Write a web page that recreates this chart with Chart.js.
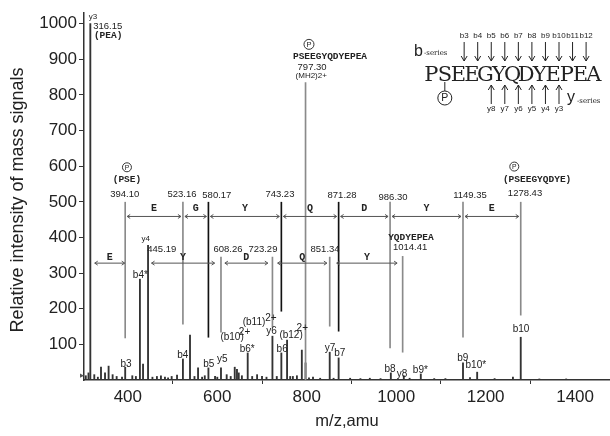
<!DOCTYPE html>
<html>
<head>
<meta charset="utf-8">
<script src="https://cdn.jsdelivr.net/npm/chart.js@4.4.0/dist/chart.umd.min.js"></script>
<style>
  html, body { margin: 0; padding: 0; background: #fff; }
</style>
</head>
<body>
<canvas id="spectrum" width="610" height="436"></canvas>
<script>
// Axis ticks
const xTicks = [400, 600, 800, 1000, 1200, 1400];
const yTicks = [100, 200, 300, 400, 500, 600, 700, 800, 900, 1000];

// Spectrum peaks (m/z, relative intensity)
const peakMz = [306, 312, 316.15, 325, 333, 340, 349, 357, 366, 375, 387, 394.10, 410, 418, 427, 434, 445.19,
  455, 465, 474, 483, 490, 498, 510, 523.16, 539, 549, 557, 566, 572, 580.17, 595, 600, 608.26, 621, 630,
  639, 644, 648, 655, 668, 678, 689, 700, 710, 723.29, 733, 743.23, 756, 763, 769, 778, 789, 797.30, 805,
  814, 830, 851.34, 860, 871.28, 897, 920, 941, 965, 988, 1017, 1030, 1055, 1085, 1110, 1149.35, 1165,
  1181, 1220, 1261, 1278.43, 1320, 1380];
const peakInt = [12, 20, 1000, 15, 8, 36, 20, 39, 15, 10, 8, 36, 12, 10, 283, 45, 378,
  8, 10, 12, 8, 6, 10, 14, 59, 126, 10, 34, 8, 12, 34, 10, 8, 34, 15, 10,
  36, 30, 20, 12, 76, 10, 15, 10, 8, 123, 10, 76, 112, 10, 10, 12, 84, 48, 6,
  8, 5, 78, 5, 62, 5, 4, 5, 4, 20, 12, 5, 17, 4, 4, 48, 7,
  22, 4, 8, 120, 3, 3];

// Fragment marker lines (floating, low..high intensity)
const blackMz = [580.17, 743.23, 871.28];
const blackLow = [120, 193, 137];
const blackHigh = [499, 499, 499];
const grayMz = [394.10, 523.16, 986.30, 1149.35, 1278.43, 608.26, 723.29, 851.34, 1014.41, 797.30];
const grayLow = [118, 157, 90, 120, 182, 134, 148, 151, 78, 0];
const grayHigh = [499, 499, 499, 499, 499, 345, 345, 345, 347, 835];

// b-series mass ladder and residues between them
const bLadder = [394.10, 523.16, 580.17, 743.23, 871.28, 986.30, 1149.35, 1278.43];
const bResidues = ["E", "G", "Y", "Q", "D", "Y", "E"];
// y-series arrows
const yFrom = [326, 453, 617, 735, 867];
const yTo = [393, 594, 713, 845, 1002];
const yResidues = ["E", "Y", "D", "Q", "Y"];

// Peptide inset
const peptide = "PSEEGYQDYEPEA";
const bIons = ["b3", "b4", "b5", "b6", "b7", "b8", "b9", "b10", "b11", "b12"];
const yIons = ["y8", "y7", "y6", "y5", "y4", "y3"];

// Text labels placed in data coordinates [text, m/z, intensity, kind]
const labels = [
  ["316.15", 355, 992, "num"], ["(PEA)", 356, 966, "mono"],
  ["PSEEGYQDYEPEA", 852, 907, "mono"], ["797.30", 812, 877, "num"], ["(MH2)2+", 810, 853, "small"],
  ["(PSE)", 398, 563, "mono"], ["394.10", 393, 521, "num"], ["523.16", 521, 521, "num"],
  ["580.17", 599, 518, "num"], ["743.23", 740, 521, "num"], ["871.28", 879, 518, "num"],
  ["986.30", 993, 513, "num"], ["1149.35", 1165, 518, "num"], ["1278.43", 1288, 524, "num"],
  ["(PSEEGYQDYE)", 1315, 563, "mono"],
  ["445.19", 476, 367, "num"], ["608.26", 624, 367, "num"], ["723.29", 702, 367, "num"],
  ["851.34", 841, 367, "num"], ["YQDYEPEA", 1033, 401, "mono"], ["1014.41", 1031, 373, "num"],
  ["b3", 396, 45, "ion"], ["b4*", 428, 294, "ion"], ["b4", 523, 70, "ion"], ["b5", 581, 45, "ion"],
  ["y5", 611, 59, "ion"], ["(b10)", 633, 120, "ion"], ["2+", 661, 134, "ion"],
  ["b6*", 667, 87, "ion"], ["(b11)", 682, 162, "ion"], ["2+", 720, 174, "ion"], ["y6", 721, 137, "ion"],
  ["(b12)", 765, 126, "ion"], ["2+", 790, 146, "ion"], ["b6", 745, 87, "ion"], ["y7", 852, 90, "ion"],
  ["b7", 874, 76, "ion"], ["b8", 986, 31, "ion"], ["y8", 1013, 17, "ion"], ["b9*", 1054, 28, "ion"],
  ["b9", 1149, 62, "ion"], ["b10*", 1178, 42, "ion"], ["b10", 1279, 143, "ion"],
  ["y4", 440, 395, "tiny"], ["y3", 322, 1020, "tiny"]
];
// circled phosphate marks [m/z, intensity, radius]
const phospho = [[805, 942, 5], [398, 597, 4.5], [1264, 599, 4.5]];

const fonts = {
  num: "9.5px 'Liberation Sans', Arial, sans-serif",
  mono: "bold 9.5px 'Liberation Mono', monospace",
  small: "8px 'Liberation Sans', Arial, sans-serif",
  ion: "10px 'Liberation Sans', Arial, sans-serif",
  tiny: "8px 'Liberation Sans', Arial, sans-serif"
};

function arrow(ctx, x1, x2, y) {
  ctx.beginPath();
  ctx.moveTo(x1, y); ctx.lineTo(x2, y);
  ctx.moveTo(x1 + 3, y - 2); ctx.lineTo(x1, y); ctx.lineTo(x1 + 3, y + 2);
  ctx.moveTo(x2 - 3, y - 2); ctx.lineTo(x2, y); ctx.lineTo(x2 - 3, y + 2);
  ctx.stroke();
}

function circleP(ctx, cx, cy, r) {
  ctx.beginPath();
  ctx.arc(cx, cy, r, 0, Math.PI * 2);
  ctx.stroke();
  ctx.font = (r * 1.5) + "px 'Liberation Sans', Arial, sans-serif";
  ctx.fillText("P", cx, cy + 0.5);
}

const annotations = {
  id: "annotations",
  afterDraw(chart) {
    const { ctx, scales: { x, y } } = chart;
    const px = v => x.getPixelForValue(v);
    const py = v => y.getPixelForValue(v);
    ctx.save();
    ctx.fillStyle = "#222";
    ctx.strokeStyle = "#555";
    ctx.lineWidth = 1;
    ctx.textAlign = "center";
    ctx.textBaseline = "middle";

    // b-series arrows
    const topY = py(459), topTxt = py(482);
    for (let i = 0; i < bResidues.length; i++) {
      const a = px(bLadder[i]) + 2, b = px(bLadder[i + 1]) - 2;
      arrow(ctx, a, b, topY);
      ctx.font = "bold 10px 'Liberation Mono', monospace";
      ctx.fillText(bResidues[i], (a + b) / 2, topTxt);
    }
    // y-series arrows
    const lowY = py(328), lowTxt = py(345);
    for (let i = 0; i < yResidues.length; i++) {
      const a = px(yFrom[i]), b = px(yTo[i]);
      arrow(ctx, a, b, lowY);
      ctx.font = "bold 10px 'Liberation Mono', monospace";
      ctx.fillText(yResidues[i], (a + b) / 2, lowTxt);
    }

    // labels
    labels.forEach(([t, m, v, kind]) => {
      ctx.font = fonts[kind];
      ctx.fillText(t, px(m), py(v));
    });
    ctx.strokeStyle = "#333";
    phospho.forEach(([m, v, r]) => circleP(ctx, px(m), py(v), r));

    // precursor marker
    ctx.fillStyle = "#555";
    ctx.beginPath();
    ctx.moveTo(x.left - 4, py(18)); ctx.lineTo(x.left, py(12)); ctx.lineTo(x.left - 4, py(6));
    ctx.closePath(); ctx.fill();

    // peptide inset
    ctx.fillStyle = "#222";
    ctx.strokeStyle = "#222";
    const x0 = 424.5, step = 13.55;
    ctx.font = "21px 'DejaVu Serif', serif";
    for (let i = 0; i < peptide.length; i++) {
      ctx.fillText(peptide[i], x0 + step * (i + 0.5), 76);
    }
    ctx.font = "8px 'Liberation Sans', Arial, sans-serif";
    bIons.forEach((b, i) => {
      const cx = x0 + step * (i + 3) - 1;
      ctx.fillText(b, cx, 36);
      ctx.beginPath();
      ctx.moveTo(cx, 42); ctx.lineTo(cx, 61);
      ctx.moveTo(cx - 3, 56); ctx.lineTo(cx, 61); ctx.lineTo(cx + 3, 56);
      ctx.stroke();
    });
    yIons.forEach((b, i) => {
      const cx = x0 + step * (i + 5) - 1;
      ctx.fillText(b, cx, 109);
      ctx.beginPath();
      ctx.moveTo(cx, 104); ctx.lineTo(cx, 85);
      ctx.moveTo(cx - 3, 90); ctx.lineTo(cx, 85); ctx.lineTo(cx + 3, 90);
      ctx.stroke();
    });
    ctx.textAlign = "left";
    ctx.font = "16px 'Liberation Sans', Arial, sans-serif";
    ctx.fillText("b", 414, 52);
    ctx.fillText("y", 567, 98);
    ctx.font = "7px 'DejaVu Serif', serif";
    ctx.fillText("-series", 424, 53);
    ctx.fillText("-series", 577, 101);
    ctx.textAlign = "center";
    const sx = x0 + step * 1.5;
    ctx.beginPath(); ctx.moveTo(sx, 82); ctx.lineTo(sx, 91); ctx.stroke();
    circleP(ctx, sx, 98, 7);

    // axis titles
    ctx.fillStyle = "#222";
    ctx.font = "16.5px 'Liberation Sans', Arial, sans-serif";
    ctx.fillText("m/z,amu", (x.left + x.right) / 2, 421);
    ctx.font = "18px 'Liberation Sans', Arial, sans-serif";
    ctx.translate(18, 200);
    ctx.rotate(-Math.PI / 2);
    ctx.fillText("Relative intensity of mass signals", 0, 0);
    ctx.restore();
  }
};

const toPoints = (xs, ys) => xs.map((m, i) => ({ x: m, y: ys[i] }));
const toRanges = (xs, lo, hi) => xs.map((m, i) => ({ x: m, y: [lo[i], hi[i]] }));
const plain = v => String(v);

new Chart(document.getElementById("spectrum"), {
  type: "bar",
  data: {
    datasets: [
      { label: "markers", data: toRanges(grayMz, grayLow, grayHigh), backgroundColor: "#8a8a8a", barThickness: 1, grouped: false },
      { label: "markers dark", data: toRanges(blackMz, blackLow, blackHigh), backgroundColor: "#111", barThickness: 1, grouped: false },
      { label: "peaks", data: toPoints(peakMz, peakInt), backgroundColor: "#333", barThickness: 1.2, grouped: false }
    ]
  },
  options: {
    responsive: false,
    animation: false,
    layout: { padding: { top: 13, right: 0, left: 0, bottom: 0 } },
    plugins: { legend: { display: false }, tooltip: { enabled: false } },
    scales: {
      x: {
        type: "linear", min: 302, max: 1478, offset: false,
        afterBuildTicks: s => { s.ticks = xTicks.map(v => ({ value: v })); },
        afterFit: s => { s.height = 56; },
        grid: { display: true, drawOnChartArea: false, drawTicks: true, tickLength: 4, color: "#333" },
        border: { display: true, color: "#333", width: 1.5 },
        ticks: { color: "#222", font: { family: "'Liberation Sans', Arial", size: 17 }, padding: 3, maxRotation: 0, callback: plain }
      },
      y: {
        min: 0, max: 1030,
        afterBuildTicks: s => { s.ticks = yTicks.map(v => ({ value: v })); },
        afterFit: s => { s.width = 84; },
        grid: { display: true, drawOnChartArea: false, drawTicks: true, tickLength: 5, color: "#333" },
        border: { display: true, color: "#333", width: 1.5 },
        ticks: { color: "#222", font: { family: "'Liberation Sans', Arial", size: 17 }, padding: 2, callback: plain }
      }
    }
  },
  plugins: [annotations]
});
</script>
</body>
</html>
